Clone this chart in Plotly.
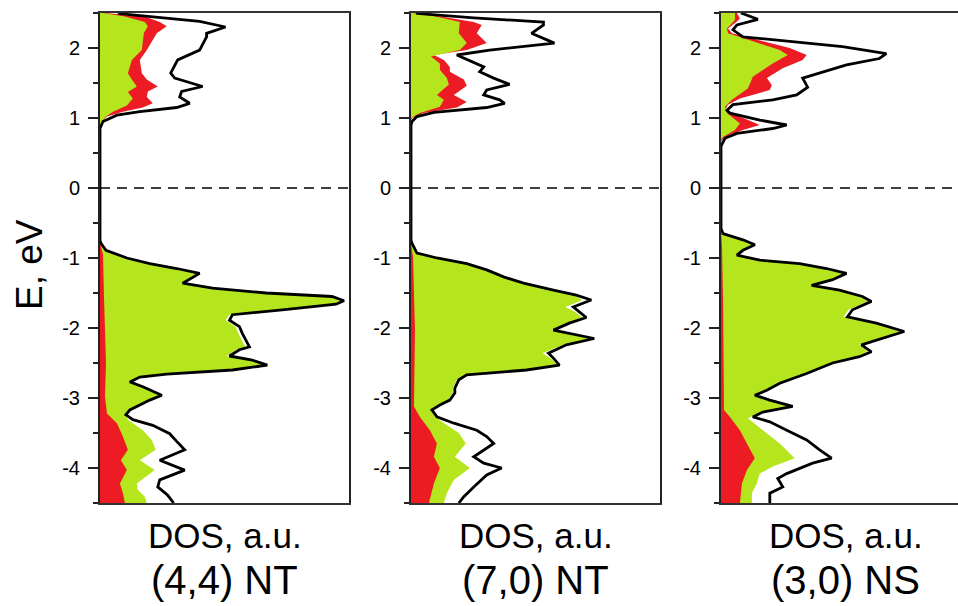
import plotly.graph_objects as go

# ---------------- Panel 1: (4,4) NT ----------------
p1_E_tot = [2.50, 2.49, 2.38, 2.30, 2.21, 2.16, 1.97, 1.83, 1.64, 1.57, 1.45, 1.38, 1.30, 1.21, 1.15, 1.09, 1.04, 0.95, 0.85,
            -0.75, -0.79, -0.89, -1.00, -1.08, -1.15, -1.22, -1.36, -1.43, -1.50, -1.55, -1.61, -1.66, -1.74, -1.81, -1.89,
            -1.98, -2.08, -2.20, -2.27, -2.31, -2.40, -2.46, -2.53, -2.60, -2.66, -2.70, -2.77, -2.84, -2.96, -3.03, -3.17,
            -3.24, -3.31, -3.39, -3.51, -3.62, -3.74, -3.89, -4.03, -4.17, -4.27, -4.39, -4.50]
p1_tot = [18, 20, 100, 126, 107, 107, 100, 78, 71, 75, 103, 82, 80, 90, 77, 40, 17, 3, 0,
          0, 1, 6, 27, 50, 77, 100, 83, 113, 167, 233, 245, 237, 183, 133, 130,
          140, 143, 147, 150, 140, 130, 153, 168, 133, 67, 40, 30, 43, 62, 50, 30,
          26, 33, 53, 70, 77, 85, 60, 85, 60, 58, 68, 74]
p1_E_cb_red = [2.50, 2.45, 2.37, 2.31, 2.21, 1.97, 1.83, 1.64, 1.55, 1.45, 1.38, 1.30, 1.21, 1.15, 1.09, 1.02, 0.95, 0.90]
p1_cb_red = [5, 45, 60, 67, 57, 47, 40, 42, 47, 58, 48, 47, 53, 43, 23, 7, 2, 0]
p1_E_cb_green = [2.50, 2.45, 2.37, 2.31, 2.21, 1.97, 1.83, 1.64, 1.55, 1.45, 1.37, 1.28, 1.18, 1.09, 1.02, 0.93, 0.88]
p1_cb_green = [3, 25, 45, 48, 44, 42, 32, 28, 32, 37, 28, 33, 27, 13, 6, 1, 0]
p1_E_vb_green = [-0.78, -0.89, -1.00, -1.08, -1.15, -1.22, -1.36, -1.43, -1.50, -1.55, -1.61, -1.66, -1.74, -1.81, -1.89,
                 -1.98, -2.08, -2.20, -2.27, -2.31, -2.40, -2.46, -2.53, -2.60, -2.66, -2.70, -2.77, -2.84, -2.96, -3.03,
                 -3.17, -3.24, -3.31, -3.46, -3.60, -3.74, -3.89, -4.03, -4.22, -4.31, -4.41, -4.50]
p1_vb_green = [0, 6, 27, 50, 77, 100, 83, 113, 167, 233, 244, 236, 182, 130, 126,
               136, 139, 143, 146, 137, 127, 152, 167, 133, 67, 40, 30, 43, 62, 50,
               30, 26, 28, 43, 52, 56, 40, 55, 37, 38, 45, 47]
p1_E_vb_red = [-0.78, -0.95, -1.55, -2.50, -2.98, -3.22, -3.36, -3.55, -3.74, -3.89, -4.03, -4.22, -4.36, -4.50]
p1_vb_red = [0, 3, 4, 6, 5, 7, 17, 23, 28, 21, 27, 20, 23, 25]

# ---------------- Panel 2: (7,0) NT ----------------
p2_E_tot = [2.50, 2.49, 2.43, 2.37, 2.33, 2.21, 2.07, 1.97, 1.90, 1.80, 1.73, 1.66, 1.57, 1.48, 1.40, 1.33, 1.26, 1.21,
            1.15, 1.08, 1.02, 0.95, 0.90,
            -0.75, -0.79, -0.93, -1.00, -1.08, -1.17, -1.27, -1.36, -1.46, -1.53, -1.60, -1.70, -1.77, -1.85, -1.93,
            -2.03, -2.15, -2.24, -2.36, -2.43, -2.53, -2.60, -2.67, -2.74, -2.86, -2.93, -3.03, -3.10, -3.17, -3.27,
            -3.36, -3.46, -3.55, -3.65, -3.84, -3.93, -4.00, -4.10, -4.27, -4.41, -4.50]
p2_tot = [5, 9, 63, 133, 133, 121, 144, 79, 46, 63, 73, 69, 83, 99, 76, 73, 89, 94,
          76, 23, 6, 1, 0,
          0, 1, 6, 26, 56, 76, 93, 113, 143, 166, 181, 163, 169, 176, 159,
          143, 184, 156, 138, 143, 149, 116, 56, 48, 44, 44, 39, 29, 21, 26,
          43, 66, 76, 83, 63, 73, 91, 76, 63, 53, 48]
p2_E_cb_red = [2.50, 2.45, 2.37, 2.33, 2.21, 2.07, 1.97, 1.90, 1.83, 1.73, 1.66, 1.55, 1.46, 1.33, 1.23, 1.15, 1.07, 1.00, 0.96]
p2_cb_red = [3, 30, 63, 71, 66, 76, 56, 23, 33, 39, 39, 53, 56, 43, 56, 46, 13, 1, 0]
p2_E_cb_green = [2.50, 2.45, 2.37, 2.21, 2.07, 1.97, 1.88, 1.78, 1.69, 1.57, 1.48, 1.33, 1.26, 1.16, 1.07, 1.00]
p2_cb_green = [2, 25, 49, 48, 56, 49, 20, 29, 29, 36, 38, 26, 33, 29, 9, 0]
p2_E_vb_green = [-0.79, -0.93, -1.00, -1.08, -1.17, -1.27, -1.36, -1.46, -1.53, -1.60, -1.70, -1.77, -1.85, -1.93,
                 -2.03, -2.15, -2.24, -2.36, -2.43, -2.53, -2.60, -2.67, -2.74, -2.86, -2.93, -3.03, -3.10, -3.17,
                 -3.27, -3.41, -3.50, -3.65, -3.84, -4.00, -4.17, -4.36, -4.50]
p2_vb_green = [0, 6, 26, 56, 76, 93, 113, 143, 164, 172, 155, 165, 172, 157,
               141, 180, 153, 132, 140, 147, 115, 56, 46, 42, 42, 37, 28, 20,
               24, 39, 48, 55, 44, 59, 43, 36, 33]
p2_E_vb_red = [-0.79, -0.98, -2.03, -2.74, -3.12, -3.27, -3.46, -3.65, -3.84, -4.00, -4.22, -4.50]
p2_vb_red = [0, 2, 4, 3, 3, 9, 19, 26, 23, 29, 23, 18]

# ---------------- Panel 3: (3,0) NS ----------------
p3_E_tot = [2.50, 2.49, 2.41, 2.33, 2.26, 2.16, 2.09, 2.02, 1.92, 1.85, 1.76, 1.61, 1.57, 1.44, 1.33, 1.26, 1.19, 1.11,
            1.07, 0.97, 0.90, 0.85, 0.78, 0.71, 0.64, 0.60,
            -0.58, -0.65, -0.74, -0.81, -0.89, -0.96, -1.03, -1.08, -1.15, -1.22, -1.31, -1.39, -1.46, -1.55, -1.62,
            -1.74, -1.84, -1.93, -2.05, -2.12, -2.24, -2.34, -2.41, -2.50, -2.65, -2.79, -2.89, -2.96, -3.03, -3.12,
            -3.20, -3.27, -3.34, -3.46, -3.60, -3.74, -3.86, -3.93, -4.08, -4.15, -4.27, -4.36, -4.50]
p3_tot = [20, 22, 37, 16, 12, 22, 72, 122, 166, 159, 126, 92, 82, 87, 76, 52, 12, 6,
          9, 39, 66, 52, 16, 4, 1, 0,
          0, 2, 22, 34, 22, 16, 39, 79, 106, 126, 112, 91, 119, 142, 151,
          132, 127, 156, 184, 169, 141, 151, 139, 112, 86, 59, 46, 34, 49, 72,
          42, 32, 49, 66, 86, 99, 111, 92, 66, 57, 62, 49, 49]
p3_E_cb_red = [2.50, 2.42, 2.38, 2.28, 2.21, 2.11, 2.00, 1.90, 1.83, 1.71, 1.57, 1.47, 1.40, 1.28, 1.19, 1.11, 1.02,
               0.90, 0.83, 0.76, 0.69, 0.66]
p3_cb_red = [16, 19, 16, 7, 11, 39, 69, 86, 82, 62, 46, 51, 49, 19, 7, 4, 19, 39, 22, 9, 1, 0]
p3_E_cb_green = [2.50, 2.40, 2.28, 2.21, 2.11, 1.97, 1.90, 1.78, 1.59, 1.42, 1.26, 1.16, 1.07, 0.92, 0.83, 0.73, 0.69]
p3_cb_green = [14, 14, 6, 7, 29, 59, 67, 52, 32, 27, 11, 4, 6, 19, 14, 2, 0]
p3_E_vb_green = [-0.60, -0.65, -0.74, -0.81, -0.89, -0.96, -1.03, -1.08, -1.15, -1.22, -1.31, -1.39, -1.46, -1.55, -1.62,
                 -1.74, -1.84, -1.93, -2.05, -2.12, -2.24, -2.34, -2.41, -2.50, -2.65, -2.79, -2.89, -2.96, -3.03, -3.12,
                 -3.20, -3.29, -3.46, -3.65, -3.86, -3.98, -4.08, -4.22, -4.36, -4.50]
p3_vb_green = [0, 2, 21, 32, 21, 15, 38, 78, 105, 124, 110, 90, 118, 140, 147,
               128, 123, 154, 180, 167, 139, 147, 137, 111, 85, 58, 45, 33, 48, 70,
               41, 27, 42, 59, 74, 52, 39, 36, 31, 31]
p3_E_vb_red = [-0.60, -0.84, -1.55, -2.51, -3.17, -3.27, -3.46, -3.65, -3.86, -4.03, -4.22, -4.50]
p3_vb_red = [0, 1, 2, 3, 3, 9, 19, 26, 34, 26, 21, 19]

panel_labels = ["(4,4) NT", "(7,0) NT", "(3,0) NS"]
x_title = "DOS, a.u."
y_title = "E, eV"
y_tickvals = [-4, -3, -2, -1, 0, 1, 2]
y_ticktext = ["-4", "-3", "-2", "-1", "0", "1", "2"]

GREEN = "#B5E61D"
RED = "#ED1C24"
FONT = "Arial, 'Liberation Sans', sans-serif"

panels = [
    (p1_E_tot, p1_tot, p1_E_cb_red, p1_cb_red, p1_E_cb_green, p1_cb_green,
     p1_E_vb_green, p1_vb_green, p1_E_vb_red, p1_vb_red),
    (p2_E_tot, p2_tot, p2_E_cb_red, p2_cb_red, p2_E_cb_green, p2_cb_green,
     p2_E_vb_green, p2_vb_green, p2_E_vb_red, p2_vb_red),
    (p3_E_tot, p3_tot, p3_E_cb_red, p3_cb_red, p3_E_cb_green, p3_cb_green,
     p3_E_vb_green, p3_vb_green, p3_E_vb_red, p3_vb_red),
]

W, H = 958, 606
x_doms = [(100, 349), (411, 660), (721, 958)]
full_w = 249.0
x_full = 250.0
y_dom = [(H - 503) / H, (H - 13) / H]

fig = go.Figure()
for i, (Et, t, Ecr, cr, Ecg, cg, Evg, vg, Evr, vr) in enumerate(panels):
    xa = "x" if i == 0 else f"x{i+1}"
    ya = "y" if i == 0 else f"y{i+1}"
    common = dict(xaxis=xa, yaxis=ya, mode="lines", line=dict(width=0),
                  fill="tozerox", hoverinfo="skip", showlegend=False)
    fig.add_trace(go.Scatter(x=cr, y=Ecr, fillcolor=RED, **common))
    fig.add_trace(go.Scatter(x=cg, y=Ecg, fillcolor=GREEN, **common))
    fig.add_trace(go.Scatter(x=vg, y=Evg, fillcolor=GREEN, **common))
    fig.add_trace(go.Scatter(x=vr, y=Evr, fillcolor=RED, **common))
    fig.add_trace(go.Scatter(x=t, y=Et, xaxis=xa, yaxis=ya, mode="lines",
                             line=dict(color="black", width=2.8), hoverinfo="skip",
                             showlegend=False))

layout = dict(
    width=W, height=H, margin=dict(l=0, r=0, t=0, b=0),
    paper_bgcolor="white", plot_bgcolor="white",
    font=dict(family=FONT, color="black"),
    showlegend=False,
)
annotations = []
shapes = []
for i, (a, b) in enumerate(x_doms):
    suf = "" if i == 0 else str(i + 1)
    xr = x_full * (b - a) / full_w
    layout["xaxis" + suf] = dict(
        domain=[a / W, b / W], range=[0, xr], anchor="y" + suf,
        showline=True, linecolor="#333", linewidth=2, mirror=True,
        showticklabels=False, ticks="", showgrid=False, zeroline=False, fixedrange=True,
    )
    layout["yaxis" + suf] = dict(
        domain=y_dom, range=[-4.5, 2.5], anchor="x" + suf,
        showline=True, linecolor="#222", linewidth=2, mirror=(i < 2),
        tickmode="array", tickvals=y_tickvals, ticktext=y_ticktext,
        ticks="outside", ticklen=10, tickwidth=2, tickcolor="#222",
        ticklabelstandoff=4,
        minor=dict(ticks="outside", ticklen=5, tickwidth=2, tickcolor="#222", dtick=0.5, tick0=0),
        tickfont=dict(size=20, family=FONT, color="black"),
        showgrid=False, zeroline=False, fixedrange=True,
    )
    shapes.append(dict(type="line", xref=f"x{suf} domain", yref="y" + suf,
                       x0=0, x1=1, y0=0, y1=0,
                       line=dict(color="black", width=1.6, dash="10px,7px")))
    cx = (a + (a + full_w)) / 2 / W
    annotations.append(dict(text=x_title, x=cx, y=(H - 535) / H, xref="paper", yref="paper",
                            xanchor="center", yanchor="middle", showarrow=False,
                            font=dict(size=35, family=FONT, color="black")))
    annotations.append(dict(text=panel_labels[i], x=cx, y=(H - 580) / H, xref="paper", yref="paper",
                            xanchor="center", yanchor="middle", showarrow=False,
                            font=dict(size=40, family=FONT, color="black")))

annotations.append(dict(text=y_title, x=29 / W, y=(H - 265) / H, xref="paper", yref="paper",
                        xanchor="center", yanchor="middle", showarrow=False, textangle=-90,
                        font=dict(size=37, family=FONT, color="black")))
layout["annotations"] = annotations
layout["shapes"] = shapes
fig.update_layout(**layout)
fig.write_html("out.html")
